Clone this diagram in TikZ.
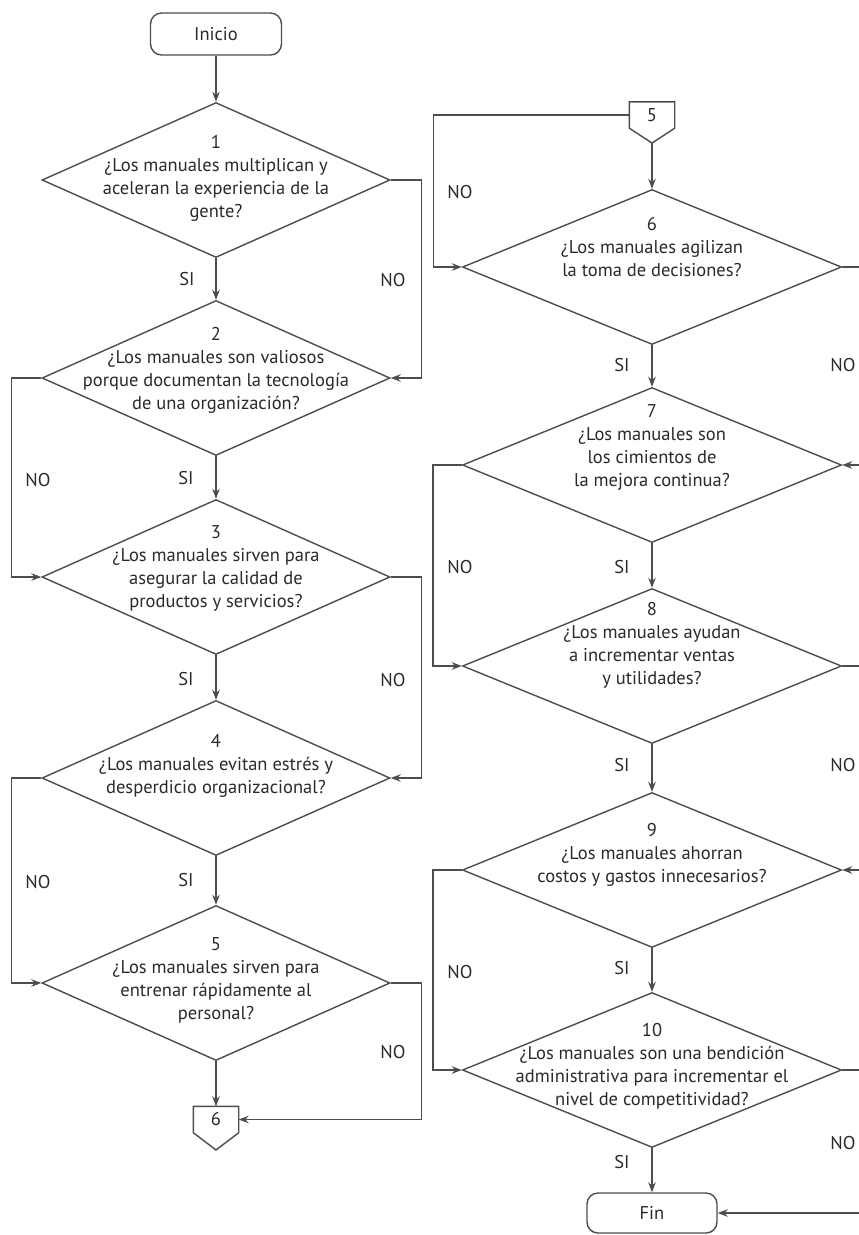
\documentclass[tikz,border=0pt]{standalone}
\usepackage{fontspec}
\setmainfont{PT Sans}
\usetikzlibrary{arrows.meta,shapes.geometric}
\definecolor{ink}{HTML}{4D4D4D}
\definecolor{txt}{HTML}{2A2A2A}
\begin{document}
\begin{tikzpicture}[x=1pt,y=-1pt,
  flow/.style={draw=ink, line width=1.4pt, -{Stealth[length=10pt,width=7.5pt]}},
  plain/.style={draw=ink, line width=1.4pt},
  terminal/.style={draw=ink, line width=1.4pt, rounded corners=11pt,
    minimum width=131pt, minimum height=42pt, inner sep=0pt,
    font=\fontsize{18.5}{20}\selectfont, text=txt},
  decision/.style={draw=ink, line width=1.4pt, diamond, inner sep=0pt,
    minimum height=155pt},
  lcol/.style={decision, minimum width=348pt},
  rcol/.style={decision, minimum width=379pt},
  qtext/.style={align=center, inner sep=0pt, text=txt,
    font=\fontsize{18.5}{23}\selectfont},
  tag/.style={inner sep=0pt, text=txt, font=\fontsize{18.5}{20}\selectfont},
  conn/.style={minimum width=45pt, minimum height=26pt, inner sep=0pt,
    text=txt, font=\fontsize{18.5}{20}\selectfont}
]
\useasboundingbox[fill=white] (0,0) rectangle (859,1235);

% ---------- left column ----------
\node[terminal] (ini) at (216,34) {Inicio};

\node[lcol] (d1) at (216,180) {};
\node[qtext] (t1) at (216,178) {1\\¿Los manuales multiplican y\\aceleran la experiencia de la\\gente?};

\node[lcol] (d2) at (216,378) {};
\node[qtext] (t2) at (216,370) {2\\¿Los manuales son valiosos\\porque documentan la tecnología\\de una organización?};

\node[lcol] (d3) at (216,577) {};
\node[qtext] (t3) at (216,568) {3\\¿Los manuales sirven para\\asegurar la calidad de\\productos y servicios?};

\node[lcol] (d4) at (216,778) {};
\node[qtext] (t4) at (216,766) {4\\¿Los manuales evitan estrés y\\desperdicio organizacional?};

\node[lcol] (d5) at (216,983) {};
\node[qtext] (t5) at (216,980) {5\\¿Los manuales sirven para\\entrenar rápidamente al\\personal?};

\node[conn] (c6) at (216,1119.5) {6};
\coordinate (c6tip) at (216,1150);
\draw[plain] (c6.north west) -- (c6.north east) -- (c6.south east)
  -- (c6tip) -- (c6.south west) -- cycle;

\draw[flow] (ini) -- (d1);
\draw[flow] (d1) -- (d2);
\draw[flow] (d2) -- (d3);
\draw[flow] (d3) -- (d4);
\draw[flow] (d4) -- (d5);
\draw[flow] (d5) -- (c6);

\draw[flow] (d1.east) -- ++(31,0) |- (d2.east);
\draw[flow] (d2.west) -- ++(-30,0) |- (d3.west);
\draw[flow] (d3.east) -- ++(31,0) |- (d4.east);
\draw[flow] (d4.west) -- ++(-30,0) |- (d5.west);
\draw[flow] (d5.east) -- ++(31,0) |- (c6.east);

\node[tag] (s1) at (187,279) {SI};
\node[tag] (n1) at (393,280) {NO};
\node[tag] (s2) at (186,478) {SI};
\node[tag] (n2) at (38,480) {NO};
\node[tag] (s3) at (186,679) {SI};
\node[tag] (n3) at (393,680) {NO};
\node[tag] (s4) at (186,880) {SI};
\node[tag] (n4) at (38,882) {NO};
\node[tag] (n5) at (393,1052) {NO};

% ---------- right column ----------
\node[conn] (c5) at (652,115) {5};
\coordinate (c5tip) at (652,143);
\draw[plain] (c5.north west) -- (c5.north east) -- (c5.south east)
  -- (c5tip) -- (c5.south west) -- cycle;

\node[rcol] (d6) at (652,267) {};
\node[qtext] (t6) at (652,247) {6\\¿Los manuales agilizan\\la toma de decisiones?};

\node[rcol] (d7) at (652,465) {};
\node[qtext] (t7) at (652,447) {7\\¿Los manuales son\\los cimientos de\\la mejora continua?};

\node[rcol] (d8) at (652,666) {};
\node[qtext] (t8) at (652,645) {8\\¿Los manuales ayudan\\a incrementar ventas\\y utilidades?};

\node[rcol] (d9) at (652,870) {};
\node[qtext] (t9) at (652,855) {9\\¿Los manuales ahorran\\costos y gastos innecesarios?};

\node[rcol] (d10) at (652,1070) {};
\node[qtext] (t10) at (652,1066) {10\\¿Los manuales son una bendición\\administrativa para incrementar el\\nivel de competitividad?};

\node[terminal, minimum width=130pt, minimum height=40pt] (fin) at (652,1213) {Fin};

\draw[flow] (c5tip) -- (d6);
\draw[flow] (d6) -- (d7);
\draw[flow] (d7) -- (d8);
\draw[flow] (d8) -- (d9);
\draw[flow] (d9) -- (d10);
\draw[flow] (d10) -- (fin);

\draw[flow] (c5.west) -- ++(-196,0) |- (d6.west);
\draw[flow] (d6.east) -- ++(18,0) |- (d7.east);
\draw[flow] (d7.west) -- ++(-29,0) |- (d8.west);
\draw[flow] (d8.east) -- ++(18,0) |- (d9.east);
\draw[flow] (d9.west) -- ++(-29,0) |- (d10.west);
\draw[flow] (d10.east) -- ++(18,0) |- (fin.east);

\node[tag] (n6) at (460,192) {NO};
\node[tag] (s6) at (622,365) {SI};
\node[tag] (n7) at (843,365) {NO};
\node[tag] (s7) at (622,567) {SI};
\node[tag] (n8) at (460,567) {NO};
\node[tag] (s8) at (622,765) {SI};
\node[tag] (n9) at (843,765) {NO};
\node[tag] (s9) at (622,968) {SI};
\node[tag] (n10) at (460,972) {NO};
\node[tag] (s10) at (622,1162) {SI};
\node[tag] (n11) at (843,1143) {NO};
\end{tikzpicture}
\end{document}
